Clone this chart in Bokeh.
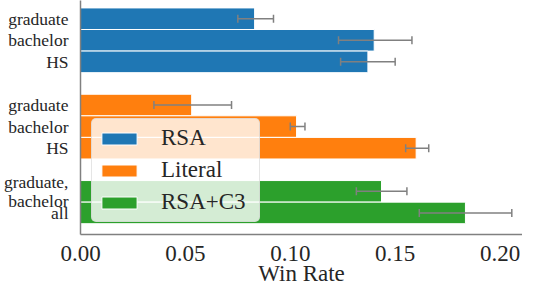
from bokeh.plotting import figure
from bokeh.models import (ColumnDataSource, Whisker, TeeHead, Range1d, FixedTicker,
                          PrintfTickFormatter, Legend, LegendItem)
from bokeh.embed import file_html
from bokeh.resources import INLINE

# ---- data ----
groups = ["RSA", "Literal", "RSA+C3"]
colors = ["#1f77b4", "#ff7f0e", "#2ca02c"]

rsa_labels = ["graduate", "bachelor", "HS"]
rsa_vals = [0.083, 0.140, 0.137]
rsa_lo = [0.075, 0.123, 0.124]
rsa_hi = [0.092, 0.158, 0.150]

lit_labels = ["graduate", "bachelor", "HS"]
lit_vals = [0.053, 0.103, 0.160]
lit_lo = [0.035, 0.100, 0.155]
lit_hi = [0.072, 0.107, 0.166]

c3_labels = ["graduate,\nbachelor", "all"]
c3_vals = [0.1435, 0.1835]
c3_lo = [0.1315, 0.1615]
c3_hi = [0.1556, 0.2056]

x_ticks = [0.0, 0.05, 0.10, 0.15, 0.20]

series = [
    (rsa_labels, rsa_vals, rsa_lo, rsa_hi),
    (lit_labels, lit_vals, lit_lo, lit_hi),
    (c3_labels, c3_vals, c3_lo, c3_hi),
]

FONT = "'Liberation Serif', 'Times New Roman', serif"
TXT = "#262626"

p = figure(width=522, height=288, output_backend="svg", toolbar_location=None,
           x_range=Range1d(0, 0.2107), y_range=Range1d(0, 10.844),
           min_border_left=71, min_border_right=0, min_border_top=0, min_border_bottom=44)
p.outline_line_color = None
p.xgrid.visible = False
p.ygrid.visible = False

# slot positions, top to bottom, one empty slot between groups
total = sum(len(s[0]) for s in series) + len(series) - 1
pos = total
overrides = {}
ticks = []
items = []
for (labels, vals, lo, hi), name, col in zip(series, groups, colors):
    ys = []
    for lab in labels:
        ys.append(pos)
        overrides[pos] = lab
        ticks.append(pos)
        pos -= 1
    pos -= 1
    src = ColumnDataSource(dict(y=ys, v=vals, lo=lo, hi=hi))
    r = p.hbar(y="y", right="v", left=0, height=1.0, source=src,
               fill_color=col, line_color="white", line_width=1)
    items.append(LegendItem(label=name, renderers=[r]))
    w = Whisker(base="y", lower="lo", upper="hi", dimension="width", source=src,
                line_color="#808080", line_width=1.5, level="annotation",
                upper_head=TeeHead(size=8, line_color="#808080", line_width=1.5),
                lower_head=TeeHead(size=8, line_color="#808080", line_width=1.5))
    p.add_layout(w)

# axes
p.yaxis.ticker = FixedTicker(ticks=ticks)
p.yaxis.major_label_overrides = overrides
p.yaxis.major_label_text_font = FONT
p.yaxis.major_label_text_font_size = "17.5px"
p.yaxis.major_label_text_color = TXT
p.yaxis.major_label_text_line_height = 0.95
p.yaxis.major_label_standoff = 6
p.xaxis.ticker = FixedTicker(ticks=x_ticks)
p.xaxis.formatter = PrintfTickFormatter(format="%.2f")
p.xaxis.major_label_text_font = FONT
p.xaxis.major_label_text_font_size = "23px"
p.xaxis.major_label_text_color = TXT
p.xaxis.major_label_text_line_height = 0.85
p.xaxis.major_label_standoff = 5
p.xaxis.axis_label = "Win Rate"
p.xaxis.axis_label_text_font = FONT
p.xaxis.axis_label_text_font_size = "23px"
p.xaxis.axis_label_text_font_style = "normal"
p.xaxis.axis_label_text_color = TXT
p.xaxis.axis_label_text_line_height = 0.85
p.xaxis.axis_label_standoff = -3
for ax in (p.xaxis, p.yaxis):
    ax.major_tick_line_color = None
    ax.minor_tick_line_color = None
    ax.axis_line_color = "#808080"
    ax.axis_line_width = 1.5

legend = Legend(items=items, location=(11, 12), margin=0, glyph_width=44, glyph_height=15,
                label_text_font=FONT, label_text_font_size="23px", label_text_color=TXT,
                label_standoff=20, label_width=93, label_height=28, spacing=4, padding=5,
                background_fill_color="white", background_fill_alpha=0.8,
                border_line_color="#cccccc", border_line_width=1)
try:
    legend.border_radius = 5
except Exception:
    pass
p.add_layout(legend)

open("out.html", "w").write(file_html(p, INLINE))
